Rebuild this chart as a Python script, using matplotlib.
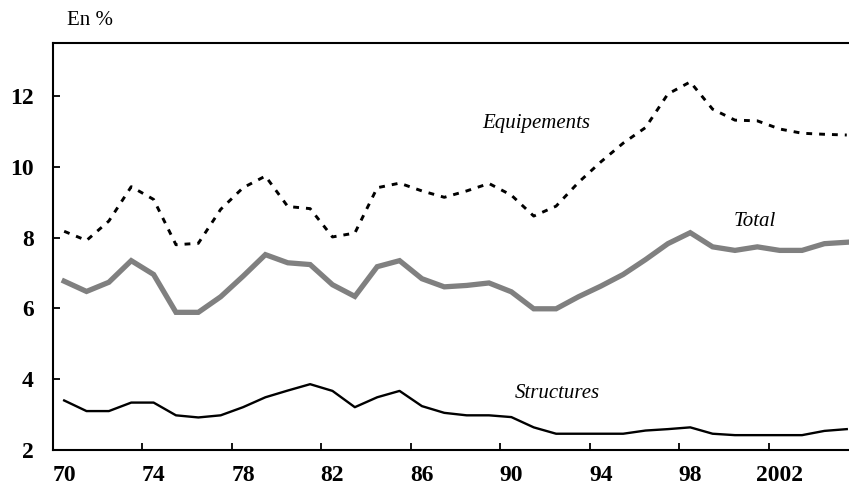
import matplotlib
matplotlib.use('Agg')
import matplotlib.pyplot as plt

plt.rcParams.update({
    'font.family': ['Liberation Serif', 'DejaVu Serif'],
    'figure.facecolor': 'white',
    'axes.facecolor': 'white',
})

years = list(range(1970, 2006))
equipements = [8.18, 7.92, 8.47, 9.44, 9.08, 7.80, 7.84, 8.80, 9.41, 9.74,
               8.88, 8.82, 8.02, 8.13, 9.41, 9.54, 9.32, 9.14, 9.32, 9.53,
               9.20, 8.61, 8.89, 9.56, 10.14, 10.67, 11.11, 12.06, 12.40, 11.63,
               11.32, 11.30, 11.07, 10.95, 10.92, 10.90]
total = [6.77, 6.48, 6.74, 7.35, 6.96, 5.89, 5.89, 6.33, 6.91, 7.52,
         7.29, 7.24, 6.67, 6.34, 7.18, 7.35, 6.84, 6.61, 6.65, 6.72,
         6.47, 5.99, 5.99, 6.33, 6.63, 6.96, 7.38, 7.83, 8.14, 7.74,
         7.64, 7.74, 7.64, 7.64, 7.83, 7.87]
structures = [3.40, 3.10, 3.10, 3.34, 3.34, 2.98, 2.92, 2.98, 3.21, 3.49,
              3.68, 3.86, 3.67, 3.21, 3.49, 3.67, 3.24, 3.05, 2.98, 2.98,
              2.93, 2.64, 2.46, 2.46, 2.46, 2.46, 2.55, 2.59, 2.64, 2.46,
              2.42, 2.42, 2.42, 2.42, 2.54, 2.59]

label_years = [1970, 1974, 1978, 1982, 1986, 1990, 1994, 1998, 2002]
label_text = ['70', '74', '78', '82', '86', '90', '94', '98', '2002']

fig = plt.figure(figsize=(8.49, 4.93), dpi=100)
ax = fig.add_axes([0.0624, 0.0872, 0.9376, 0.8256])

ax.plot(years, equipements, color='black', linewidth=2.1, linestyle=(0, (2.0, 2.4)))
ax.plot(years, total, color='#808080', linewidth=3.8, solid_joinstyle='miter')
ax.plot(years, structures, color='black', linewidth=1.7)

ax.set_xlim(1969.5, 2005.1)
ax.set_ylim(2, 13.5)

# labels centred on the years, tick marks between categories
ax.set_xticks(label_years)
ax.set_xticklabels(label_text, fontsize=17, fontweight='bold')
ax.set_xticks([y - 0.5 for y in label_years[1:]], minor=True)
ax.tick_params(axis='x', which='major', length=0, pad=11)
ax.tick_params(axis='x', which='minor', direction='in', length=5, width=1.3)

ax.set_yticks([2, 4, 6, 8, 10, 12])
ax.set_yticklabels(['2', '4', '6', '8', '10', '12'], fontsize=17, fontweight='bold')
ax.tick_params(axis='y', direction='in', length=5, width=1.3, pad=14)

for side in ['left', 'bottom', 'top']:
    ax.spines[side].set_linewidth(1.5)
ax.spines['right'].set_visible(False)

ax.text(1991.13, 11.23, 'Equipements', fontsize=15, style='italic', ha='center', va='center')
ax.text(2000.87, 8.45, 'Total', fontsize=15, style='italic', ha='center', va='center')
ax.text(1992.06, 3.59, 'Structures', fontsize=15, style='italic', ha='center', va='center')

fig.text(0.106, 0.958, 'En %', fontsize=15, ha='center', va='center')

fig.savefig('out.png', dpi=100, facecolor='white')
